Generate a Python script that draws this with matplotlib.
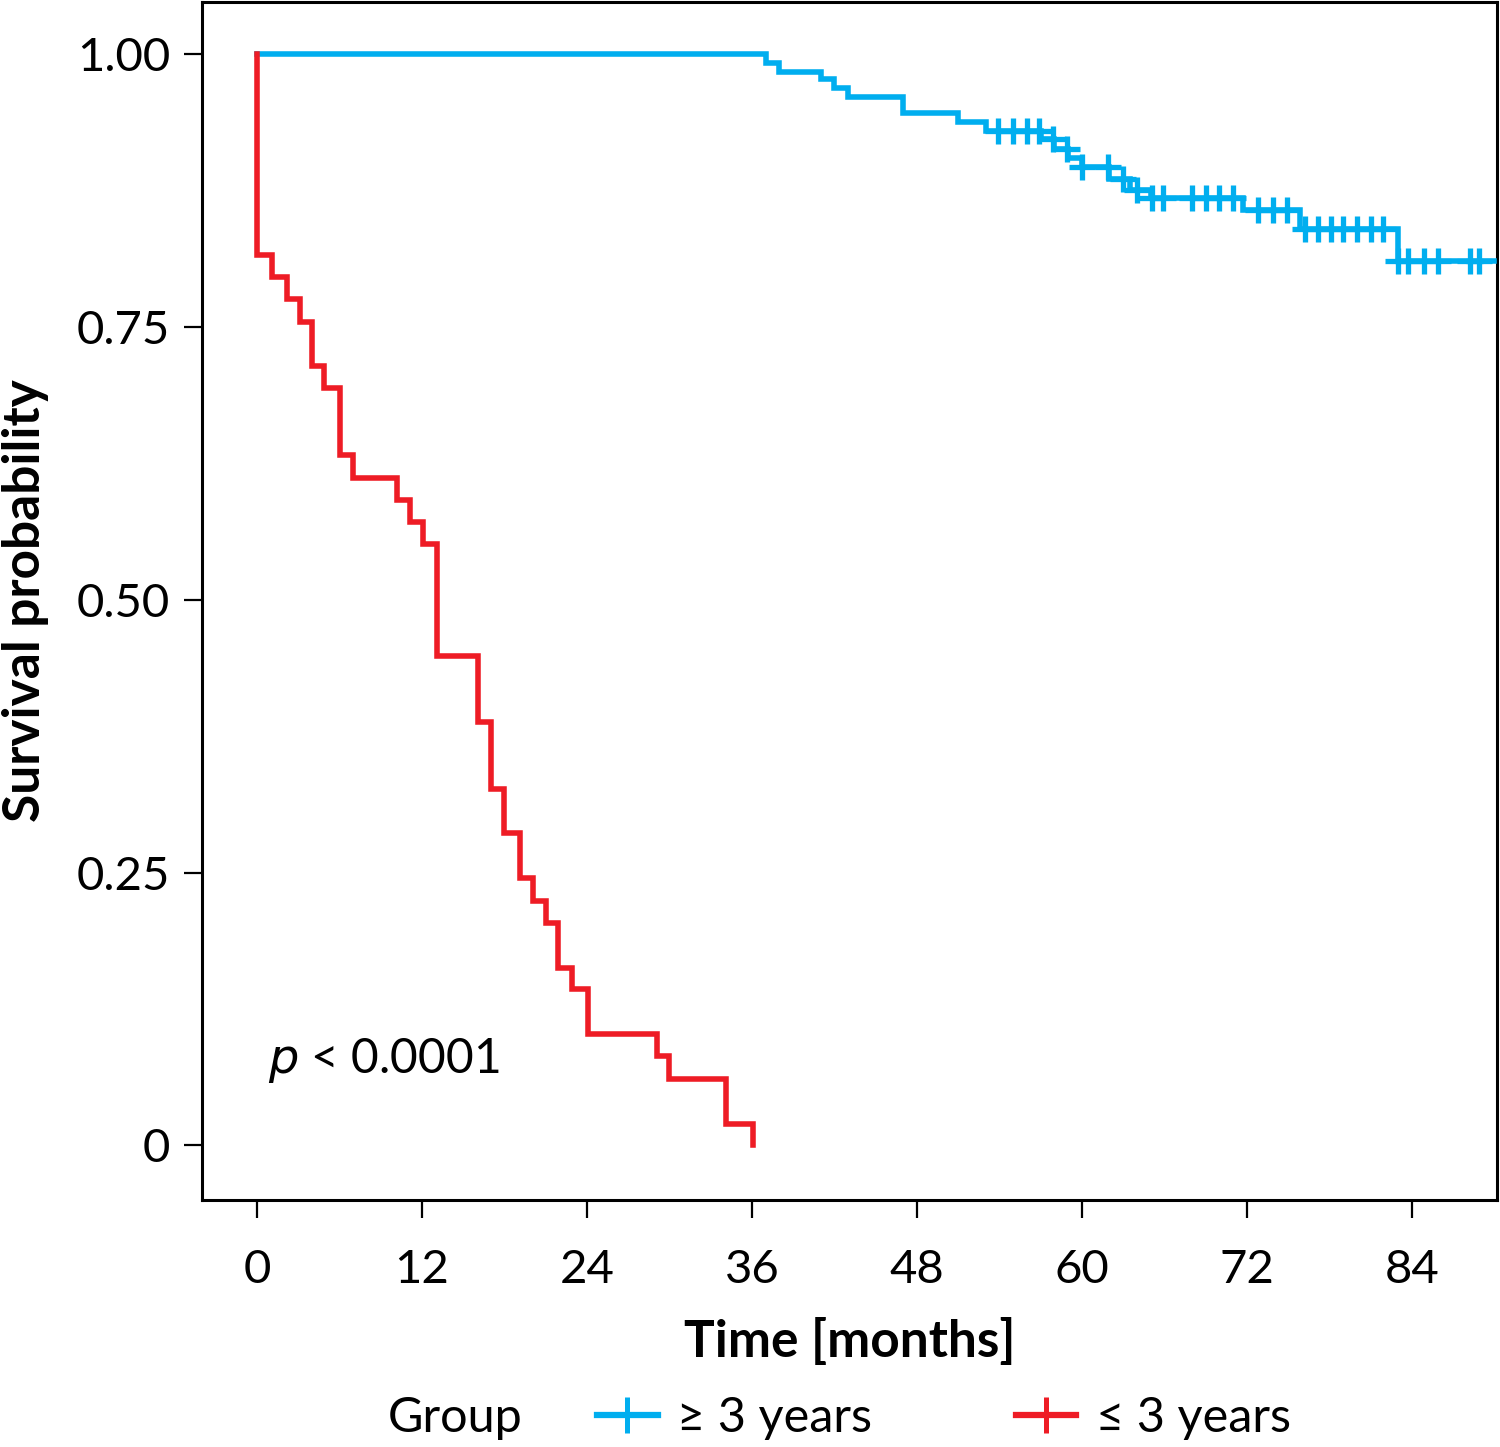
import matplotlib
matplotlib.use("Agg")
import matplotlib.pyplot as plt
from matplotlib.lines import Line2D

plt.rcParams['font.family'] = ['Lato', 'DejaVu Sans']

# ---- data ----
# group >= 3 years (blue): event times and survival after each event
blue_times = [0, 37, 38, 41, 42, 43, 47, 51, 53, 57, 58, 59, 60, 62, 63.5, 65, 71.7, 75.9, 83.0]
blue_surv = [1.0, 0.992, 0.984, 0.977, 0.969, 0.961, 0.946, 0.938, 0.930, 0.922, 0.913,
             0.905, 0.897, 0.886, 0.876, 0.868, 0.857, 0.840, 0.811]
blue_end = 90.0
blue_censor = [53.9, 55.0, 56.0, 56.9, 57.9, 58.9, 60.0, 61.9, 63.0, 64.0, 65.1, 65.9,
               68.0, 69.0, 70.0, 71.0, 72.8, 73.9, 74.9, 76.2, 77.2, 78.1, 79.0, 80.0,
               81.0, 81.9, 83.0, 83.7, 84.9, 85.9, 88.2, 88.9]

# group <= 3 years (red)
red_times = [0, 0, 1.1, 2.2, 3.1, 4.0, 4.9, 6.0, 7.0, 10.2, 11.1, 12.1, 13.1, 16.1, 17.0,
             18.0, 19.1, 20.1, 21.0, 21.9, 22.9, 24.1, 29.1, 30.0, 34.1, 36.1]
red_surv = [1.0, 0.816, 0.796, 0.776, 0.755, 0.714, 0.694, 0.633, 0.612, 0.592, 0.571,
            0.551, 0.449, 0.388, 0.327, 0.286, 0.245, 0.224, 0.204, 0.163, 0.143, 0.102,
            0.082, 0.061, 0.020, 0.0]

x_ticks = [0, 12, 24, 36, 48, 60, 72, 84]
y_ticks = [0, 0.25, 0.50, 0.75, 1.00]
y_tick_labels = ['0', '0.25', '0.50', '0.75', '1.00']
group_labels = ['\u2265 3 years', '\u2264 3 years']

BLUE = '#00AEEF'
RED = '#EE1C25'

fig = plt.figure(figsize=(15, 14.47), dpi=100)
ax = fig.add_axes([0.1347, 0.1707, 0.998 - 0.1347, 0.9986 - 0.1707])

def surv_at(t, times, surv):
    s = surv[0]
    for ti, si in zip(times, surv):
        if t >= ti:
            s = si
    return s

lw = 4.0
ax.step(blue_times + [blue_end], blue_surv + [blue_surv[-1]], where='post',
        color=BLUE, lw=lw, solid_joinstyle='miter', zorder=3)
ax.plot(blue_censor, [surv_at(t, blue_times, blue_surv) for t in blue_censor],
        ls='none', marker='+', ms=19, mew=3.8, color=BLUE, zorder=3)
ax.step(red_times, red_surv, where='post', color=RED, lw=lw,
        solid_joinstyle='miter', zorder=3)

ax.set_xlim(-4, 90.2)
ax.set_ylim(-0.05, 1.048)
ax.set_xticks(x_ticks)
ax.set_xticklabels([str(v) for v in x_ticks])
ax.set_yticks(y_ticks)
ax.set_yticklabels(y_tick_labels)
for sp in ax.spines.values():
    sp.set_linewidth(2.2)
    sp.set_color('black')
ax.tick_params(axis='both', direction='out', length=13, width=1.6, labelsize=34,
               color='black', labelcolor='black')
ax.tick_params(axis='x', pad=22)
ax.tick_params(axis='y', pad=10)

ax.set_xlabel('Time [months]', fontsize=37, fontweight='bold', labelpad=20)
ax.set_ylabel('Survival probability', fontsize=37, fontweight='bold', labelpad=20)

ax.text(0.8, 0.078, r'$\it{p}$ < 0.0001', fontsize=34.5, ha='left', va='center')

# legend
fig.text(388 / 1500, 1 - 1418 / 1447, 'Group', fontsize=35, ha='left', va='center')
handles = [Line2D([], [], color=BLUE, lw=4.5, marker='+', ms=26, mew=3.6),
           Line2D([], [], color=RED, lw=4.5, marker='+', ms=26, mew=3.6)]
fig.legend(handles, group_labels, loc='center left', ncol=2, frameon=False,
           fontsize=35, handlelength=1.25, handletextpad=0.4, columnspacing=2.95,
           bbox_to_anchor=(597 / 1500, 1 - 1418 / 1447), borderaxespad=0, borderpad=0)

fig.savefig('out.png', dpi=100, facecolor='white')
